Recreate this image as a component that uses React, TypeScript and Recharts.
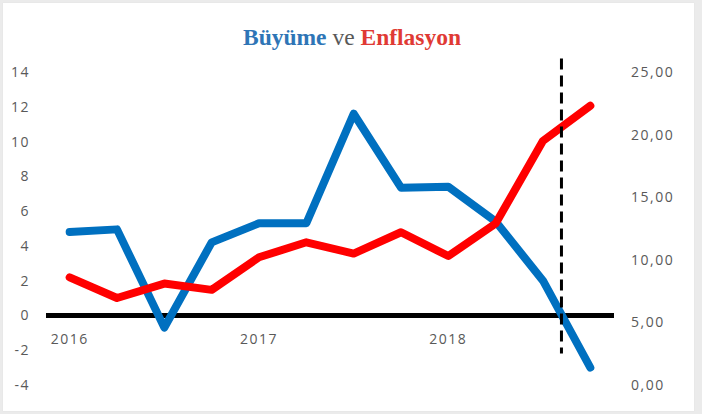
import React from "react";
import { LineChart, Line, XAxis, YAxis, ReferenceLine } from "recharts";

const quarters = [1, 2, 3, 4, 5, 6, 7, 8, 9, 10, 11, 12];
const quarterLabels = ["2016", "2016Q2", "2016Q3", "2016Q4", "2017", "2017Q2", "2017Q3", "2017Q4", "2018", "2018Q2", "2018Q3", "2018Q4"];
const growth = [4.8, 4.95, -0.7, 4.2, 5.3, 5.3, 11.6, 7.35, 7.4, 5.4, 2.0, -3.0];
const inflation = [8.6, 6.95, 8.1, 7.6, 10.2, 11.4, 10.5, 12.2, 10.3, 12.9, 19.5, 22.3];
const yearTicks = [1, 5, 9];
const leftTicks = [-4, -2, 0, 2, 4, 6, 8, 10, 12, 14];
const rightTicks = [0, 5, 10, 15, 20, 25];
const markerX = 11.39;
const markerTop = 14.78;
const markerBottom = -2.19;

const data = quarters.map((q, i) => ({
  q,
  label: quarterLabels[i],
  growth: growth[i],
  inflation: inflation[i],
}));

const tickStyle = {
  fontFamily: "'Open Sans', sans-serif",
  fontSize: 14,
  fill: "#595959",
  letterSpacing: 1.5,
};

const YearTick = (props: any) => {
  const { x, y, payload } = props;
  const idx = quarters.indexOf(payload.value);
  return (
    <text
      x={x}
      y={y}
      dy={-41}
      textAnchor="middle"
      style={tickStyle as any}
    >
      {quarterLabels[idx].slice(0, 4)}
    </text>
  );
};

export default function App() {
  return (
    <div style={{ position: "fixed", left: 0, top: 0, width: 702, height: 414, background: "#ebebeb" }}>
      <div
        style={{
          position: "absolute",
          left: 3,
          top: 3,
          width: 691,
          height: 408,
          background: "#ffffff",
          boxShadow: "0 0 1px #d8d8d8",
        }}
      />
      <div style={{ position: "absolute", left: 0, top: 0 }}>
        <LineChart
          width={702}
          height={414}
          data={data}
          margin={{ top: 72, right: 0, bottom: 0, left: 0 }}
        >
          <XAxis
            dataKey="q"
            type="number"
            domain={[0.5, 12.5]}
            ticks={yearTicks}
            tick={<YearTick />}
            axisLine={false}
            tickLine={false}
            tickSize={0}
            tickMargin={0}
            height={29}
            allowDataOverflow
          />
          <YAxis
            yAxisId="left"
            orientation="left"
            domain={[-4, 14]}
            ticks={leftTicks}
            width={46}
            axisLine={false}
            tickLine={false}
            tickSize={0}
            tickMargin={16}
            tick={tickStyle}
            interval={0}
          />
          <YAxis
            yAxisId="right"
            orientation="right"
            domain={[0, 25]}
            ticks={rightTicks}
            width={88}
            axisLine={false}
            tickLine={false}
            tickSize={0}
            tickMargin={17}
            tick={{ ...tickStyle, textAnchor: "start" }}
            interval={0}
            tickFormatter={(v: number) => v.toFixed(2).replace(".", ",")}
          />
          <ReferenceLine yAxisId="left" y={0} stroke="#000000" strokeWidth={5} />
          <Line
            yAxisId="left"
            dataKey="growth"
            stroke="#0070C0"
            strokeWidth={8}
            dot={false}
            activeDot={false}
            strokeLinecap="round"
            strokeLinejoin="round"
            isAnimationActive={false}
          />
          <Line
            yAxisId="right"
            dataKey="inflation"
            stroke="#FF0000"
            strokeWidth={8}
            dot={false}
            activeDot={false}
            strokeLinecap="round"
            strokeLinejoin="round"
            isAnimationActive={false}
          />
          <ReferenceLine
            yAxisId="left"
            segment={[
              { x: markerX, y: markerTop },
              { x: markerX, y: markerBottom },
            ]}
            stroke="#000000"
            strokeWidth={3}
            strokeDasharray="11 6"
            ifOverflow="visible"
          />
        </LineChart>
      </div>
      <svg width={702} height={60} style={{ position: "absolute", left: 0, top: 0 }}>
        <text
          x={352}
          y={45}
          textAnchor="middle"
          style={{ fontFamily: "'Liberation Serif', 'Times New Roman', serif", fontSize: 23.5 }}
        >
          <tspan fill="#2E75B6" fontWeight="bold">Büyüme</tspan>
          <tspan fill="#595959"> ve </tspan>
          <tspan fill="#E03A34" fontWeight="bold">Enflasyon</tspan>
        </text>
      </svg>
    </div>
  );
}
